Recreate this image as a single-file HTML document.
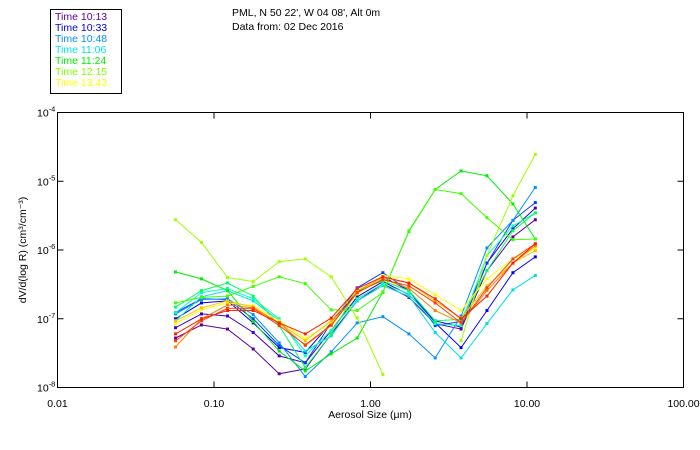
<!DOCTYPE html>
<html><head><meta charset="utf-8"><style>
body{margin:0;background:#fff}
svg{display:block;font-family:"Liberation Sans","DejaVu Sans",sans-serif}
</style></head><body>
<svg id="chart" width="700" height="450" viewBox="0 0 700 450" xmlns="http://www.w3.org/2000/svg">
<rect width="700" height="450" fill="#fff"/>
<g>
<rect x="50.5" y="9.5" width="71" height="84" fill="none" stroke="#000"/>
<g font-size="10.5" id="legend-items"></g>
</g>
<text x="232" y="16" font-size="10.5">PML, N 50 22', W 04 08', Alt 0m</text>
<text x="232" y="30" font-size="10.5">Data from: 02 Dec 2016</text>
<rect x="57.5" y="112.5" width="626" height="275" fill="none" stroke="#000"/>
<g id="axes"></g>
<g id="series"></g>
<text x="370" y="418" font-size="10.5" text-anchor="middle">Aerosol Size (μm)</text>
<text transform="translate(26,250) rotate(-90)" font-size="10.5" text-anchor="middle">dV/d(log R) (cm³/cm⁻³)</text>
</svg>
<script>
// x: particle radius (µm); y: log10(dV/dlogR)
const sizes = [0.0568,0.0832,0.122,0.178,0.261,0.383,0.561,0.822,1.20,1.76,2.59,3.79,5.55,8.13,11.3];
const xTickLabels = ["0.01","0.10","1.00","10.00","100.00"];
const xTickValues = [0.01,0.1,1,10,100];
const yTickExps = [-8,-7,-6,-5,-4];
const seriesNames = ["Time 10:13","Time 10:33","Time 10:48","Time 11:06","Time 11:24","Time 12:15","Time 13:43"];
const legendColors = ["#6000a0","#0000e0","#0090ff","#00e8e0","#00ee00","#80ff00","#ffff00"];
const s1 = [-7.28,-7.09,-7.15,-7.44,-7.80,-7.73,-7.22,-6.74,-6.49,-6.69,-7.07,-7.15,-6.30,-5.81,-5.56];
const s2 = [-7.13,-6.93,-6.96,-7.20,-7.54,-7.64,-7.17,-6.68,-6.46,-6.65,-7.03,-7.12,-6.19,-5.69,-5.39];
const s3 = [-7.00,-6.77,-6.74,-7.06,-7.42,-7.49,-7.06,-6.61,-6.39,-6.59,-7.06,-7.42,-6.88,-6.33,-6.10];
const s4 = [-6.91,-6.71,-6.72,-7.00,-7.39,-7.64,-7.06,-6.55,-6.33,-6.59,-7.10,-7.04,-6.19,-5.57,-5.31];
const s5 = [-6.93,-6.72,-6.71,-6.94,-7.35,-7.84,-7.48,-7.06,-6.97,-7.22,-7.57,-6.96,-5.97,-5.57,-5.09];
const s6 = [-7.03,-6.68,-6.59,-6.74,-7.03,-7.47,-7.25,-6.74,-6.52,-6.67,-7.20,-7.57,-7.07,-6.58,-6.37];
const s7 = [-6.91,-6.62,-6.56,-6.71,-7.00,-7.54,-7.17,-6.71,-6.49,-6.64,-7.07,-7.10,-6.08,-5.65,-5.46];
const s8 = [-6.83,-6.59,-6.48,-6.67,-7.10,-7.71,-7.22,-6.59,-6.45,-6.59,-7.03,-7.01,-6.30,-5.72,-5.46];
const s9 = [-6.32,-6.42,-6.59,-7.04,-7.47,-7.76,-7.51,-7.28,-6.61,-5.73,-5.12,-4.85,-4.92,-5.33,-5.84];
const s10 = [-6.77,-6.69,-6.67,-6.53,-6.39,-6.49,-6.87,-6.88,-6.62,-5.72,-5.12,-5.18,-5.53,-5.85,-5.84];
const s11 = [-5.56,-5.89,-6.40,-6.46,-6.17,-6.13,-6.39,-6.99,-7.81,null,null,null,null,null,null];
const s12 = [null,null,null,null,null,null,null,null,null,null,null,-7.32,-6.08,-5.21,-4.61];
const s13 = [-7.07,-6.87,-6.77,-6.81,-7.03,-7.29,-7.06,-6.64,-6.37,-6.42,-6.65,-6.88,-6.42,-6.13,-5.98];
const s14 = [-7.03,-6.84,-6.74,-6.83,-7.06,-7.32,-7.03,-6.59,-6.40,-6.48,-6.74,-6.99,-6.52,-6.19,-6.01];
const s15 = [-7.41,-7.00,-6.80,-6.84,-7.06,-7.39,-7.10,-6.62,-6.42,-6.56,-6.88,-7.06,-6.59,-6.19,-5.94];
const s16 = [-7.32,-7.03,-6.85,-6.85,-7.10,-7.38,-7.09,-6.62,-6.43,-6.52,-6.77,-7.06,-6.55,-6.13,-5.91];
const s17 = [-7.22,-7.00,-6.88,-6.88,-7.06,-7.22,-6.99,-6.56,-6.39,-6.48,-6.71,-7.00,-6.67,-6.19,-5.91];

const allSeries = [s1,s2,s3,s4,s5,s6,s7,s8,s9,s10,s11,s12,s13,s14,s15,s16,s17];
const colors = ["#6000a0","#4000c0","#0000ff","#0040ff","#0090ff","#00e0e0","#00ffc0","#00ff60","#00ee00","#40ff00","#a0ff00","#a0ff00","#ffff00","#ffc000","#ff8000","#ff4000","#ff2000"];

const X0=57.5,X1=683.5,Y0=387.5,Y1=112.5;
function xs(v){return X0+(Math.log10(v)+2)/4*(X1-X0);}
function ys(l){return Y0-(l+8)/4*(Y0-Y1);}
const NS="http://www.w3.org/2000/svg";
function mk(tag,attrs,parent){const e=document.createElementNS(NS,tag);for(const k in attrs)e.setAttribute(k,attrs[k]);parent.appendChild(e);return e;}

const leg=document.getElementById('legend-items');
seriesNames.forEach((n,i)=>{
  const t=mk('text',{x:55,y:20+i*11,fill:legendColors[i]},leg);
  t.textContent=n;
  
  
});

const axes=document.getElementById('axes');
xTickValues.forEach((v,i)=>{
  const x=xs(v);
  const t1=mk('line',{x1:x,x2:x,y1:Y0,y2:Y0-6,stroke:'#000'},axes);
  
  
  const t2=mk('line',{x1:x,x2:x,y1:Y1,y2:Y1+6,stroke:'#000'},axes);
  
  
  const lb=mk('text',{x:x,y:407,'font-size':10.5,'text-anchor':'middle'},axes);
  lb.textContent=xTickLabels[i];
  
  
});
yTickExps.forEach(e=>{
  const y=ys(e);
  const t1=mk('line',{x1:X0,x2:X0+6,y1:y,y2:y,stroke:'#000'},axes);
  
  
  const t2=mk('line',{x1:X1,x2:X1-6,y1:y,y2:y,stroke:'#000'},axes);
  
  
  const lb=mk('text',{x:37,y:y+4,'font-size':10.5},axes);
  
  
  lb.appendChild(document.createTextNode('10'));
  const sp=mk('tspan',{dy:-5,'font-size':7.5},lb);
  sp.textContent=String(e);
});

const sg=document.getElementById('series');
allSeries.forEach((s,si)=>{
  const g=mk('g',{},sg);
  
  
  let d='';let pen=false;
  s.forEach((v,i)=>{
    if(v===null){pen=false;return;}
    d+=(pen?'L':'M')+xs(sizes[i]).toFixed(1)+' '+ys(v).toFixed(1);pen=true;
  });
  const p=mk('path',{d:d,fill:'none',stroke:colors[si],'stroke-width':1},g);
  
  
  s.forEach((v,i)=>{
    if(v===null)return;
    const r=mk('rect',{x:xs(sizes[i])-1.5,y:ys(v)-1.5,width:3,height:3,fill:colors[si]},g);
    
    
  });
});
</script>
</body></html>
